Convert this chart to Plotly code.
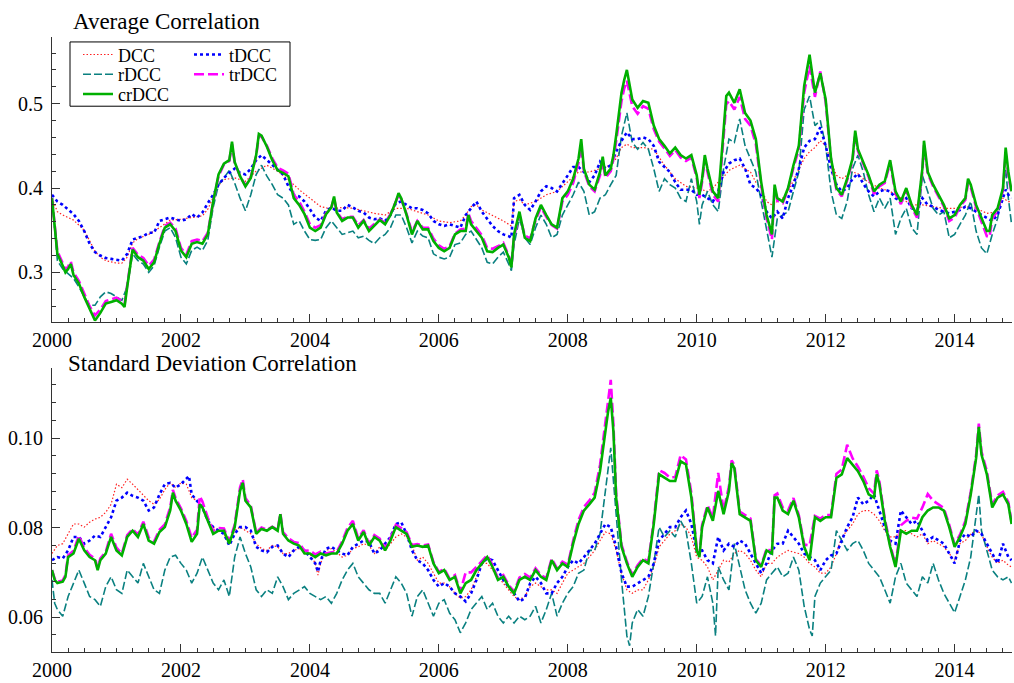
import plotly.graph_objects as go

# ---------------------------------------------------------------
# Correlation summaries of five DCC-type models, Jan 2000 - Nov 2014.
# Time points are given in months since January 2000.
# ---------------------------------------------------------------

def grid(extra):
    return sorted(list(range(179)) + list(extra))

# ---------------- Average correlation ----------------
avg_cr_m = grid([0.5, 2.5, 3.5, 13.5, 14.5, 33.5, 38.5, 52.5, 64.5, 77.5, 85.5, 98.5,
                 102.5, 104.5, 106.5, 120.5, 121.5, 125.5, 134.5, 149.5, 162.3,
                 170.5, 174.5, 177.5, 178.6])

avg_crdcc = [
    0.388, 0.353, 0.322, 0.308, 0.300, 0.304, 0.310, 0.297, 0.287, 0.271, 0.256, 0.243,
    0.252, 0.263, 0.265, 0.267, 0.263, 0.259, 0.283, 0.306, 0.327,
    0.318, 0.314, 0.304, 0.312, 0.334, 0.353, 0.357, 0.349, 0.326, 0.318, 0.334, 0.336, 0.334, 0.345,
    0.384, 0.416, 0.429, 0.433, 0.455,
    0.431, 0.414, 0.402, 0.412, 0.439, 0.464,
    0.462, 0.449, 0.433, 0.421, 0.418, 0.414, 0.388, 0.380, 0.369, 0.353, 0.349, 0.353, 0.369, 0.377, 0.390,
    0.371, 0.361, 0.365, 0.365, 0.353, 0.361, 0.349, 0.355, 0.362, 0.357, 0.368, 0.384, 0.394,
    0.388, 0.368, 0.345, 0.361, 0.351, 0.351, 0.337, 0.329, 0.325, 0.329, 0.345, 0.349, 0.349, 0.368,
    0.357, 0.349, 0.341, 0.325, 0.324, 0.329, 0.333, 0.318, 0.306,
    0.345, 0.372, 0.341, 0.337, 0.364, 0.380, 0.368, 0.357, 0.353, 0.388, 0.396, 0.411, 0.435, 0.458,
    0.423, 0.404, 0.398, 0.419, 0.437,
    0.415, 0.423, 0.439,
    0.462, 0.513, 0.528,
    0.540, 0.505, 0.495, 0.503, 0.501, 0.474, 0.458, 0.450, 0.441, 0.448, 0.439, 0.435, 0.439, 0.415, 0.392,
    0.411, 0.439,
    0.423, 0.396, 0.388, 0.474, 0.509,
    0.513, 0.501, 0.517, 0.489, 0.480, 0.458, 0.407, 0.368, 0.345, 0.404,
    0.388, 0.384, 0.400, 0.427, 0.450, 0.521, 0.558, 0.513, 0.536, 0.505, 0.435, 0.400, 0.392, 0.411, 0.435, 0.468,
    0.446, 0.431, 0.415, 0.396, 0.404, 0.408, 0.433, 0.396, 0.384, 0.400, 0.380, 0.368, 0.423, 0.456,
    0.419, 0.404, 0.392, 0.380, 0.364, 0.368, 0.380, 0.388, 0.411,
    0.404, 0.380, 0.364, 0.349, 0.349,
    0.368, 0.376, 0.400, 0.448, 0.419, 0.396,
]

avg_trdcc = [
    0.388, 0.356, 0.325, 0.311, 0.303, 0.307, 0.313, 0.300, 0.290, 0.275, 0.260, 0.249,
    0.256, 0.266, 0.268, 0.270, 0.266, 0.262, 0.285, 0.308, 0.329,
    0.321, 0.317, 0.308, 0.315, 0.336, 0.355, 0.359, 0.352, 0.329, 0.321, 0.337, 0.339, 0.337, 0.347,
    0.384, 0.414, 0.428, 0.432, 0.452,
    0.430, 0.414, 0.403, 0.413, 0.438, 0.461,
    0.461, 0.450, 0.435, 0.424, 0.421, 0.417, 0.392, 0.384, 0.372, 0.357, 0.353, 0.356, 0.370, 0.377, 0.388,
    0.372, 0.363, 0.366, 0.366, 0.356, 0.362, 0.352, 0.357, 0.363, 0.359, 0.369, 0.384, 0.392,
    0.387, 0.369, 0.348, 0.361, 0.353, 0.353, 0.340, 0.332, 0.328, 0.331, 0.346, 0.351, 0.352, 0.370,
    0.361, 0.352, 0.344, 0.329, 0.328, 0.331, 0.335, 0.320, 0.308,
    0.343, 0.368, 0.344, 0.340, 0.362, 0.377, 0.366, 0.356, 0.352, 0.384, 0.392, 0.406, 0.430, 0.450,
    0.420, 0.402, 0.396, 0.415, 0.432,
    0.412, 0.420, 0.434,
    0.455, 0.503, 0.518,
    0.527, 0.497, 0.488, 0.497, 0.494, 0.470, 0.455, 0.447, 0.438, 0.445, 0.436, 0.432, 0.436, 0.412, 0.388,
    0.407, 0.434,
    0.419, 0.392, 0.384, 0.466, 0.499,
    0.503, 0.493, 0.508, 0.482, 0.474, 0.452, 0.403, 0.364, 0.339, 0.400,
    0.385, 0.382, 0.398, 0.424, 0.446, 0.513, 0.545, 0.508, 0.538, 0.502, 0.433, 0.398, 0.390, 0.409, 0.432, 0.465,
    0.444, 0.429, 0.413, 0.393, 0.402, 0.406, 0.430, 0.393, 0.381, 0.398, 0.377, 0.365, 0.420, 0.451,
    0.417, 0.402, 0.389, 0.378, 0.361, 0.365, 0.378, 0.386, 0.406,
    0.401, 0.377, 0.360, 0.343, 0.342,
    0.364, 0.373, 0.397, 0.441, 0.415, 0.393,
]

avg_r_m = grid([85.5, 120.5, 177.5, 178.6])
avg_rdcc = [
    0.388, 0.314, 0.304, 0.298, 0.293, 0.283, 0.271, 0.261, 0.261, 0.271, 0.277, 0.275, 0.271, 0.267, 0.283, 0.322,
    0.314, 0.310, 0.300, 0.308, 0.330, 0.349, 0.353, 0.341, 0.318, 0.310, 0.326, 0.330, 0.326, 0.338,
    0.377, 0.404, 0.412, 0.421, 0.406, 0.388, 0.373, 0.392, 0.416, 0.427, 0.414, 0.404, 0.392, 0.388, 0.380,
    0.357, 0.361, 0.349, 0.339, 0.338, 0.339, 0.353, 0.361, 0.353, 0.345, 0.347, 0.349, 0.341, 0.343, 0.338, 0.334,
    0.341, 0.345, 0.353, 0.368, 0.368, 0.353, 0.335, 0.349, 0.343, 0.341, 0.322, 0.318, 0.316, 0.318, 0.333,
    0.335, 0.345, 0.349, 0.339, 0.329, 0.312, 0.310, 0.318, 0.324, 0.310,
    0.302,
    0.333, 0.364, 0.341, 0.333, 0.353, 0.368, 0.357, 0.341, 0.345, 0.368, 0.380, 0.392, 0.407, 0.396, 0.368,
    0.372, 0.388, 0.392, 0.404, 0.415, 0.462, 0.489, 0.454, 0.446, 0.454, 0.446, 0.423, 0.396, 0.411, 0.404,
    0.400, 0.388, 0.384, 0.411, 0.384,
    0.357,
    0.380, 0.396, 0.380, 0.372, 0.423, 0.458, 0.454, 0.482, 0.450, 0.435, 0.419, 0.384, 0.349, 0.318, 0.364,
    0.368, 0.372, 0.396, 0.419, 0.493,
    0.509, 0.474, 0.480, 0.450, 0.396, 0.368, 0.364, 0.384, 0.423, 0.439, 0.419, 0.392, 0.372, 0.388, 0.376,
    0.388, 0.345, 0.364, 0.376, 0.353,
    0.345, 0.415, 0.396, 0.376, 0.368, 0.372, 0.341, 0.345, 0.357, 0.368, 0.384, 0.349, 0.329, 0.322, 0.345,
    0.364, 0.400,
    0.423, 0.388, 0.357,
]

avg_dcc_m = [0, 1, 2, 4, 6, 7, 8, 9, 10, 12, 13, 14, 15, 16, 18, 20, 22, 24, 26, 28, 29, 30, 31, 32,
             34, 36, 38, 40, 42, 44, 46, 48, 50, 52, 54, 56, 58, 60, 62, 64, 66, 68, 70, 72, 74, 76,
             77, 78, 79, 80, 82, 84, 85.5, 86, 87, 88, 90, 92, 94, 96, 98, 100, 102, 104, 105, 106,
             107, 108, 110, 112, 114, 116, 118, 120, 122, 123, 124, 125, 126, 128, 130, 131, 132, 133,
             134, 135, 136, 137, 138, 139, 140, 141, 142, 143, 144, 145, 146, 147, 148, 149, 150, 151,
             152, 154, 156, 158, 160, 162, 164, 166, 168, 170, 172, 174, 176, 177, 178, 178.6]
avg_dcc = [0.388, 0.372, 0.368, 0.362, 0.350, 0.338, 0.325, 0.318, 0.314, 0.311, 0.311, 0.318, 0.335,
           0.340, 0.345, 0.353, 0.362, 0.363, 0.365, 0.367, 0.375, 0.390, 0.403, 0.410, 0.412, 0.408,
           0.420, 0.427, 0.420, 0.410, 0.398, 0.388, 0.378, 0.375, 0.377, 0.376, 0.373, 0.370, 0.368,
           0.376, 0.376, 0.372, 0.368, 0.361, 0.359, 0.361, 0.368, 0.378, 0.380, 0.374, 0.368, 0.361,
           0.355, 0.384, 0.386, 0.380, 0.384, 0.392, 0.396, 0.407, 0.419, 0.419, 0.423, 0.427, 0.435,
           0.448, 0.452, 0.448, 0.448, 0.446, 0.427, 0.411, 0.402, 0.400, 0.396, 0.400, 0.407, 0.413,
           0.421, 0.427, 0.419, 0.407, 0.400, 0.384, 0.380, 0.384, 0.388, 0.396, 0.410, 0.422, 0.435,
           0.443, 0.448, 0.456, 0.450, 0.431, 0.415, 0.411, 0.415, 0.419, 0.417, 0.411, 0.407, 0.400,
           0.396, 0.388, 0.380, 0.380, 0.378, 0.376, 0.376, 0.378, 0.376, 0.370, 0.372, 0.388, 0.384,
           0.384]

avg_t_m = grid([85.5, 177.5, 178.6])
avg_tdcc = [
    0.392, 0.384, 0.380, 0.375, 0.369, 0.361, 0.349, 0.334, 0.324, 0.320, 0.317, 0.316, 0.315, 0.314, 0.322, 0.339,
    0.341, 0.343, 0.347, 0.347, 0.361, 0.363, 0.365, 0.363, 0.361, 0.363, 0.369, 0.365, 0.371, 0.382, 0.392,
    0.404, 0.412, 0.418, 0.423, 0.418, 0.416, 0.423, 0.433, 0.439, 0.433, 0.427, 0.421, 0.416, 0.402, 0.392,
    0.390, 0.384, 0.375, 0.365, 0.361, 0.373, 0.377, 0.373, 0.373, 0.380, 0.377, 0.373, 0.371, 0.365, 0.363,
    0.364, 0.361, 0.368, 0.382, 0.384, 0.380, 0.376, 0.376, 0.374, 0.370, 0.361, 0.357, 0.355, 0.357, 0.355,
    0.353, 0.368, 0.376, 0.384, 0.372, 0.364, 0.355, 0.349, 0.345, 0.343,
    0.341,
    0.388, 0.392, 0.380, 0.374, 0.384, 0.396, 0.402, 0.400, 0.396, 0.405, 0.415, 0.425, 0.425, 0.419, 0.407,
    0.415, 0.431, 0.423, 0.427, 0.443, 0.456, 0.466, 0.458, 0.458, 0.460, 0.458, 0.450, 0.431, 0.425, 0.419,
    0.407, 0.398, 0.398, 0.398, 0.392,
    0.392, 0.388, 0.384, 0.396, 0.419, 0.429, 0.433, 0.435, 0.423, 0.404, 0.400, 0.392, 0.372, 0.364, 0.372,
    0.364, 0.388, 0.404, 0.423, 0.448,
    0.456, 0.458, 0.472, 0.450, 0.423, 0.404, 0.396, 0.400, 0.411, 0.417, 0.405, 0.396, 0.390, 0.396, 0.398,
    0.396, 0.388, 0.384, 0.388, 0.376,
    0.374, 0.388, 0.380, 0.378, 0.374, 0.372, 0.370, 0.372, 0.374, 0.378, 0.376, 0.372, 0.368, 0.364, 0.361,
    0.368, 0.388,
    0.398, 0.392, 0.388,
]

# ---------------- Standard deviation of correlations ----------------
sd_cr_m = grid([0.5, 2.5, 8.5, 22.5, 27.5, 35.5, 42.5, 103.5, 104.5, 120.5, 126.5, 134.5,
                153.5, 172.5, 178.6])
sd_crdcc = [
    0.0705, 0.0683, 0.0676, 0.0679, 0.0690, 0.0734, 0.0742, 0.0775, 0.0749, 0.0734, 0.0727, 0.0705,
    0.0727, 0.0742, 0.0779, 0.0749, 0.0738, 0.0779, 0.0793, 0.0779, 0.0808, 0.0771, 0.0764, 0.0790, 0.0801, 0.0838,
    0.0878,
    0.0860, 0.0838, 0.0808, 0.0768, 0.0786,
    0.0852,
    0.0845, 0.0815, 0.0786, 0.0793, 0.0793, 0.0764, 0.0801, 0.0882,
    0.0900,
    0.0860, 0.0845, 0.0786, 0.0797, 0.0793, 0.0801, 0.0793,
    0.0830,
    0.0786, 0.0771, 0.0764, 0.0760, 0.0742, 0.0742, 0.0734, 0.0742, 0.0738, 0.0742, 0.0742, 0.0764, 0.0793,
    0.0808, 0.0771, 0.0790, 0.0760, 0.0779,
    0.0771, 0.0749, 0.0771, 0.0801, 0.0793, 0.0786, 0.0757, 0.0760, 0.0757, 0.0760, 0.0720, 0.0698, 0.0705,
    0.0683, 0.0690, 0.0653, 0.0676, 0.0683, 0.0705, 0.0720,
    0.0734, 0.0712, 0.0683, 0.0690, 0.0668, 0.0653, 0.0683, 0.0690, 0.0683, 0.0705, 0.0690, 0.0683, 0.0727,
    0.0705, 0.0720, 0.0712, 0.0764, 0.0808, 0.0838, 0.0852,
    0.0867, 0.0926, 0.1014,
    0.1059,
    0.1090,
    0.1014,
    0.0867, 0.0757, 0.0720, 0.0690, 0.0712, 0.0727, 0.0720, 0.0808, 0.0919, 0.0911, 0.0904, 0.0904, 0.0948,
    0.0941, 0.0867, 0.0749,
    0.0734,
    0.0801, 0.0845, 0.0815, 0.0882, 0.0830, 0.0882,
    0.0944,
    0.0933, 0.0830, 0.0823, 0.0815, 0.0727, 0.0712, 0.0749, 0.0742,
    0.0867,
    0.0867, 0.0838, 0.0830, 0.0860, 0.0823, 0.0757, 0.0727, 0.0823, 0.0815, 0.0823, 0.0823, 0.0911, 0.0919,
    0.0955, 0.0941, 0.0926, 0.0904, 0.0874, 0.0867,
    0.0919,
    0.0896, 0.0815, 0.0757, 0.0712, 0.0793, 0.0786, 0.0793, 0.0793, 0.0823, 0.0838, 0.0845, 0.0845, 0.0838,
    0.0801, 0.0757, 0.0779, 0.0808, 0.0874, 0.0955,
    0.1025,
    0.0963, 0.0919, 0.0845, 0.0867, 0.0874, 0.0852,
    0.0808,
]

sd_trdcc = [
    0.0705, 0.0686, 0.0679, 0.0682, 0.0694, 0.0738, 0.0748, 0.0782, 0.0755, 0.0739, 0.0731, 0.0709,
    0.0731, 0.0746, 0.0786, 0.0755, 0.0742, 0.0783, 0.0797, 0.0784, 0.0813, 0.0778, 0.0769, 0.0795, 0.0807, 0.0845,
    0.0884,
    0.0866, 0.0843, 0.0815, 0.0777, 0.0795,
    0.0870,
    0.0858, 0.0822, 0.0792, 0.0799, 0.0798, 0.0769, 0.0806, 0.0890,
    0.0908,
    0.0866, 0.0849, 0.0789, 0.0800, 0.0795, 0.0802, 0.0795,
    0.0832,
    0.0790, 0.0776, 0.0768, 0.0765, 0.0748, 0.0749, 0.0740, 0.0746, 0.0742, 0.0745, 0.0746, 0.0769, 0.0799,
    0.0815, 0.0776, 0.0794, 0.0764, 0.0783,
    0.0775, 0.0754, 0.0776, 0.0806, 0.0799, 0.0790, 0.0761, 0.0763, 0.0760, 0.0762, 0.0723, 0.0701, 0.0708,
    0.0686, 0.0694, 0.0657, 0.0700, 0.0700, 0.0712, 0.0724,
    0.0738, 0.0716, 0.0687, 0.0694, 0.0672, 0.0657, 0.0688, 0.0696, 0.0688, 0.0709, 0.0694, 0.0687, 0.0731,
    0.0709, 0.0724, 0.0717, 0.0771, 0.0817, 0.0846, 0.0860,
    0.0878, 0.0940, 0.1032,
    0.1085,
    0.1130,
    0.1030,
    0.0875, 0.0762, 0.0724, 0.0694, 0.0716, 0.0731, 0.0724, 0.0815, 0.0928, 0.0922, 0.0912, 0.0913, 0.0962,
    0.0952, 0.0877, 0.0753,
    0.0738,
    0.0806, 0.0850, 0.0822, 0.0922, 0.0838, 0.0892,
    0.0950,
    0.0940, 0.0836, 0.0828, 0.0820, 0.0730, 0.0715, 0.0753, 0.0746,
    0.0872,
    0.0876, 0.0845, 0.0838, 0.0866, 0.0828, 0.0762, 0.0760, 0.0826, 0.0820, 0.0828, 0.0828, 0.0920, 0.0930,
    0.0985, 0.0955, 0.0936, 0.0914, 0.0888, 0.0876,
    0.0928,
    0.0903, 0.0820, 0.0762, 0.0716, 0.0805, 0.0815, 0.0822, 0.0820, 0.0845, 0.0875, 0.0860, 0.0852, 0.0843,
    0.0806, 0.0762, 0.0784, 0.0815, 0.0880, 0.0962,
    0.1032,
    0.0970, 0.0926, 0.0852, 0.0872, 0.0880, 0.0857,
    0.0812,
]

sd_r_m = grid([0.5, 107.5, 123.5, 141.5, 172.5, 178.6])
sd_rdcc = [
    0.0683, 0.0631,
    0.0617, 0.0602, 0.0646, 0.0676, 0.0705, 0.0676, 0.0646, 0.0639, 0.0624, 0.0668,
    0.0690, 0.0661, 0.0653, 0.0705, 0.0690, 0.0676, 0.0720, 0.0690, 0.0661, 0.0653,
    0.0705, 0.0734, 0.0738, 0.0720, 0.0705, 0.0676, 0.0698, 0.0734, 0.0705, 0.0676,
    0.0661, 0.0683, 0.0646, 0.0734, 0.0779, 0.0742, 0.0712, 0.0661, 0.0646, 0.0661,
    0.0653, 0.0690, 0.0668, 0.0639, 0.0653, 0.0661, 0.0668, 0.0653, 0.0646, 0.0639,
    0.0646, 0.0631, 0.0653, 0.0683, 0.0705, 0.0720, 0.0690, 0.0676, 0.0661, 0.0653,
    0.0653, 0.0631, 0.0661, 0.0690, 0.0676, 0.0653, 0.0602, 0.0646, 0.0661, 0.0631,
    0.0602, 0.0631, 0.0639, 0.0609, 0.0594, 0.0565, 0.0587, 0.0617, 0.0631, 0.0646,
    0.0617, 0.0631, 0.0602, 0.0587, 0.0602, 0.0587, 0.0602, 0.0594, 0.0602, 0.0624,
    0.0587, 0.0617, 0.0653, 0.0602, 0.0631, 0.0653, 0.0668, 0.0698, 0.0705, 0.0749,
    0.0749, 0.0786, 0.0882, 0.0978, 0.0830, 0.0683, 0.0558,
    0.0536,
    0.0587, 0.0617, 0.0602, 0.0646, 0.0720, 0.0801, 0.0779, 0.0793,
    0.0779, 0.0815, 0.0793, 0.0720, 0.0631, 0.0646, 0.0690, 0.0631,
    0.0558,
    0.0712, 0.0683, 0.0661, 0.0764, 0.0712, 0.0661, 0.0631, 0.0609, 0.0631,
    0.0683, 0.0698, 0.0712, 0.0690, 0.0698, 0.0734, 0.0705, 0.0624, 0.0572,
    0.0558,
    0.0646, 0.0676, 0.0690, 0.0705, 0.0793, 0.0771, 0.0749, 0.0764, 0.0771, 0.0749,
    0.0720, 0.0705, 0.0690, 0.0661, 0.0631, 0.0690, 0.0720, 0.0676, 0.0661, 0.0646,
    0.0690, 0.0676, 0.0720, 0.0683, 0.0653, 0.0631, 0.0610, 0.0646, 0.0683, 0.0734,
    0.0823,
    0.0874,
    0.0793, 0.0749, 0.0705, 0.0690, 0.0683, 0.0690,
    0.0676,
]

sd_dcc_m = grid([49.5, 178.6])
sd_dcc = [
    0.0742, 0.0760, 0.0764, 0.0786, 0.0808, 0.0808, 0.0801, 0.0812, 0.0819, 0.0823,
    0.0834, 0.0852, 0.0897, 0.0889, 0.0908, 0.0897, 0.0885, 0.0874, 0.0860, 0.0852,
    0.0863, 0.0885, 0.0900, 0.0889, 0.0900, 0.0897, 0.0867, 0.0860, 0.0845, 0.0815,
    0.0801, 0.0793, 0.0786, 0.0764, 0.0793, 0.0801, 0.0793, 0.0786, 0.0764, 0.0753,
    0.0749, 0.0760, 0.0757, 0.0742, 0.0742, 0.0749, 0.0753, 0.0749, 0.0742, 0.0720,
    0.0694,
    0.0720, 0.0749, 0.0753, 0.0745, 0.0734, 0.0738, 0.0753, 0.0757, 0.0764, 0.0760,
    0.0742, 0.0757, 0.0749, 0.0764, 0.0779, 0.0786, 0.0779, 0.0760, 0.0727, 0.0734,
    0.0720, 0.0698, 0.0676, 0.0676, 0.0668, 0.0653, 0.0642, 0.0646, 0.0661, 0.0690,
    0.0720, 0.0720, 0.0705, 0.0690, 0.0676, 0.0661, 0.0646, 0.0639, 0.0646, 0.0668,
    0.0676, 0.0668, 0.0661, 0.0661, 0.0653, 0.0676, 0.0698, 0.0705, 0.0712, 0.0720,
    0.0734, 0.0749, 0.0771, 0.0790, 0.0786, 0.0749, 0.0698, 0.0661, 0.0653, 0.0661,
    0.0661, 0.0683, 0.0712, 0.0757, 0.0771, 0.0786, 0.0793, 0.0808, 0.0801, 0.0779,
    0.0734, 0.0727, 0.0712, 0.0683, 0.0705, 0.0727, 0.0723, 0.0742, 0.0749, 0.0742,
    0.0727, 0.0705, 0.0690, 0.0720, 0.0720, 0.0734, 0.0742, 0.0749, 0.0745, 0.0742,
    0.0734, 0.0720, 0.0712, 0.0698, 0.0698, 0.0712, 0.0742, 0.0779, 0.0793, 0.0808,
    0.0830, 0.0838, 0.0838, 0.0830, 0.0815, 0.0793, 0.0779, 0.0779, 0.0793, 0.0793,
    0.0786, 0.0779, 0.0786, 0.0764, 0.0771, 0.0764, 0.0757, 0.0742, 0.0727, 0.0764,
    0.0771, 0.0786, 0.0793, 0.0786, 0.0757, 0.0734, 0.0720, 0.0727, 0.0716,
    0.0712,
]

sd_t_m = grid([25.5, 49.5, 178.6])
sd_tdcc = [
    0.0727, 0.0734, 0.0731, 0.0749, 0.0779, 0.0779, 0.0764, 0.0771, 0.0782, 0.0779,
    0.0801, 0.0823, 0.0860, 0.0867, 0.0878, 0.0871, 0.0867, 0.0860, 0.0838, 0.0845,
    0.0874, 0.0897, 0.0900, 0.0889, 0.0897, 0.0908,
    0.0915,
    0.0874, 0.0860, 0.0845, 0.0815, 0.0801, 0.0793, 0.0786, 0.0760, 0.0786, 0.0801,
    0.0801, 0.0793, 0.0757, 0.0749, 0.0745, 0.0757, 0.0760, 0.0742, 0.0734, 0.0749,
    0.0757, 0.0749, 0.0734, 0.0720,
    0.0701,
    0.0727, 0.0753, 0.0757, 0.0749, 0.0742, 0.0738, 0.0757, 0.0764, 0.0771, 0.0768,
    0.0742, 0.0749, 0.0764, 0.0779, 0.0808, 0.0812, 0.0786, 0.0749, 0.0727, 0.0720,
    0.0705, 0.0683, 0.0668, 0.0676, 0.0668, 0.0653, 0.0646, 0.0635, 0.0653, 0.0683,
    0.0720, 0.0731, 0.0727, 0.0705, 0.0683, 0.0668, 0.0653, 0.0635, 0.0642, 0.0676,
    0.0690, 0.0676, 0.0653, 0.0653, 0.0676, 0.0690, 0.0712, 0.0727, 0.0720, 0.0734,
    0.0749, 0.0764, 0.0786, 0.0808, 0.0801, 0.0757, 0.0698, 0.0668, 0.0668, 0.0676,
    0.0683, 0.0690, 0.0720, 0.0771, 0.0786, 0.0801, 0.0801, 0.0823, 0.0838, 0.0808,
    0.0749, 0.0749, 0.0727, 0.0720, 0.0779, 0.0749, 0.0764, 0.0757, 0.0771, 0.0764,
    0.0742, 0.0720, 0.0698, 0.0720, 0.0749, 0.0764, 0.0764, 0.0793, 0.0779, 0.0764,
    0.0742, 0.0734, 0.0727, 0.0705, 0.0727, 0.0738, 0.0742, 0.0771, 0.0801, 0.0823,
    0.0867, 0.0852, 0.0860, 0.0874, 0.0838, 0.0801, 0.0771, 0.0764, 0.0838, 0.0823,
    0.0808, 0.0815, 0.0793, 0.0771, 0.0779, 0.0771, 0.0764, 0.0742, 0.0720, 0.0771,
    0.0786, 0.0779, 0.0793, 0.0786, 0.0764, 0.0742, 0.0720, 0.0764, 0.0734,
    0.0727,
]

for t_, v_ in [(avg_cr_m, avg_crdcc), (avg_cr_m, avg_trdcc), (avg_r_m, avg_rdcc),
               (avg_dcc_m, avg_dcc), (avg_t_m, avg_tdcc), (sd_cr_m, sd_crdcc),
               (sd_cr_m, sd_trdcc), (sd_r_m, sd_rdcc), (sd_dcc_m, sd_dcc), (sd_t_m, sd_tdcc)]:
    assert len(t_) == len(v_), (len(t_), len(v_))


def years(months):
    return [2000 + m / 12.0 for m in months]


# ---------------- styles ----------------
FONT = "Liberation Serif"
AX = "#333333"
styles = {
    "DCC":   dict(color="#ff2020", width=1.2, dash="1.5px,2px"),
    "rDCC":  dict(color="#0a8080", width=1.6, dash="8px,3px"),
    "tDCC":  dict(color="#0000ff", width=2.6, dash="dot"),
    "trDCC": dict(color="#ff00ff", width=2.6, dash="10px,4px"),
    "crDCC": dict(color="#00b000", width=2.6, dash="solid"),
}
# one legend box per key entry, so the two-column key can be placed row by row
legend_of = {"DCC": "legend", "rDCC": "legend2", "crDCC": "legend3",
             "tDCC": "legend4", "trDCC": "legend5"}

panels = [
    ("x", "y", {"DCC": (avg_dcc_m, avg_dcc), "rDCC": (avg_r_m, avg_rdcc),
                "tDCC": (avg_t_m, avg_tdcc), "trDCC": (avg_cr_m, avg_trdcc),
                "crDCC": (avg_cr_m, avg_crdcc)}),
    ("x2", "y2", {"DCC": (sd_dcc_m, sd_dcc), "rDCC": (sd_r_m, sd_rdcc),
                  "tDCC": (sd_t_m, sd_tdcc), "trDCC": (sd_cr_m, sd_trdcc),
                  "crDCC": (sd_cr_m, sd_crdcc)}),
]

fig = go.Figure()
draw_order = ["DCC", "rDCC", "tDCC", "trDCC", "crDCC"]
for i, (xa, ya, data) in enumerate(panels):
    for name in draw_order:
        t_, v_ = data[name]
        fig.add_trace(go.Scatter(
            x=years(t_), y=v_, mode="lines", name=name, line=styles[name],
            xaxis=xa, yaxis=ya, showlegend=(i == 0), legend=legend_of[name],
            hoverinfo="skip"))

# ---------------- axes ----------------
W, H = 1014, 683
ML, MR, MT, MB = 52, 2, 37, 24
PW, PH = W - ML - MR, H - MT - MB


def py(px_y):
    return (H - MB - px_y) / PH


def px(px_x):
    return (px_x - ML) / PW


x_common = dict(range=[2000, 2014.89], tick0=2000, dtick=2, tickformat="d",
                showline=True, linecolor=AX, linewidth=1, ticks="inside", ticklen=8,
                tickcolor=AX, showgrid=False, zeroline=False,
                tickfont=dict(size=20, family=FONT, color="black"),
                minor=dict(dtick=0.25, ticks="inside", ticklen=4, tickcolor=AX, showgrid=False))
y_common = dict(showline=True, linecolor=AX, linewidth=1, ticks="inside", ticklen=8,
                tickcolor=AX, showgrid=False, zeroline=False, ticklabelstandoff=4,
                tickfont=dict(size=20, family=FONT, color="black"))


def key(x_px, y_px):
    return dict(x=px(x_px), y=py(y_px), xanchor="left", yanchor="middle",
                bgcolor="rgba(0,0,0,0)", borderwidth=0,
                font=dict(size=18, family=FONT, color="black"))


fig.update_layout(
    width=W, height=H,
    margin=dict(l=ML, r=MR, t=MT, b=MB),
    paper_bgcolor="white", plot_bgcolor="white",
    font=dict(family=FONT, color="black"),
    xaxis=dict(domain=[0, 1], anchor="y", **x_common),
    yaxis=dict(domain=[py(325), 1], anchor="x", range=[0.2415, 0.579], tick0=0, dtick=0.1,
               minor=dict(dtick=0.02, ticks="inside", ticklen=4, tickcolor=AX, showgrid=False),
               **y_common),
    xaxis2=dict(domain=[0, 1], anchor="y2", **x_common),
    yaxis2=dict(domain=[0, py(372)], anchor="x2", range=[0.0522, 0.1156], tick0=0, dtick=0.02,
                tickformat=".2f",
                minor=dict(dtick=0.004, ticks="inside", ticklen=4, tickcolor=AX, showgrid=False),
                **y_common),
    legend=key(78, 55), legend2=key(78, 75), legend3=key(78, 95),
    legend4=key(189, 55), legend5=key(189, 75),
    shapes=[dict(type="rect", xref="paper", yref="paper", x0=px(70), x1=px(290),
                 y0=py(107), y1=py(42), line=dict(color="black", width=1),
                 fillcolor="rgba(0,0,0,0)")],
    annotations=[
        dict(text="Average Correlation", xref="paper", yref="paper", x=px(71), y=py(21),
             xanchor="left", yanchor="middle", showarrow=False,
             font=dict(size=23, family=FONT, color="black")),
        dict(text="Standard Deviation Correlation", xref="paper", yref="paper", x=px(66),
             y=py(367), xanchor="left", yanchor="middle", showarrow=False,
             font=dict(size=23, family=FONT, color="black")),
    ],
)

fig.write_html("out.html")
